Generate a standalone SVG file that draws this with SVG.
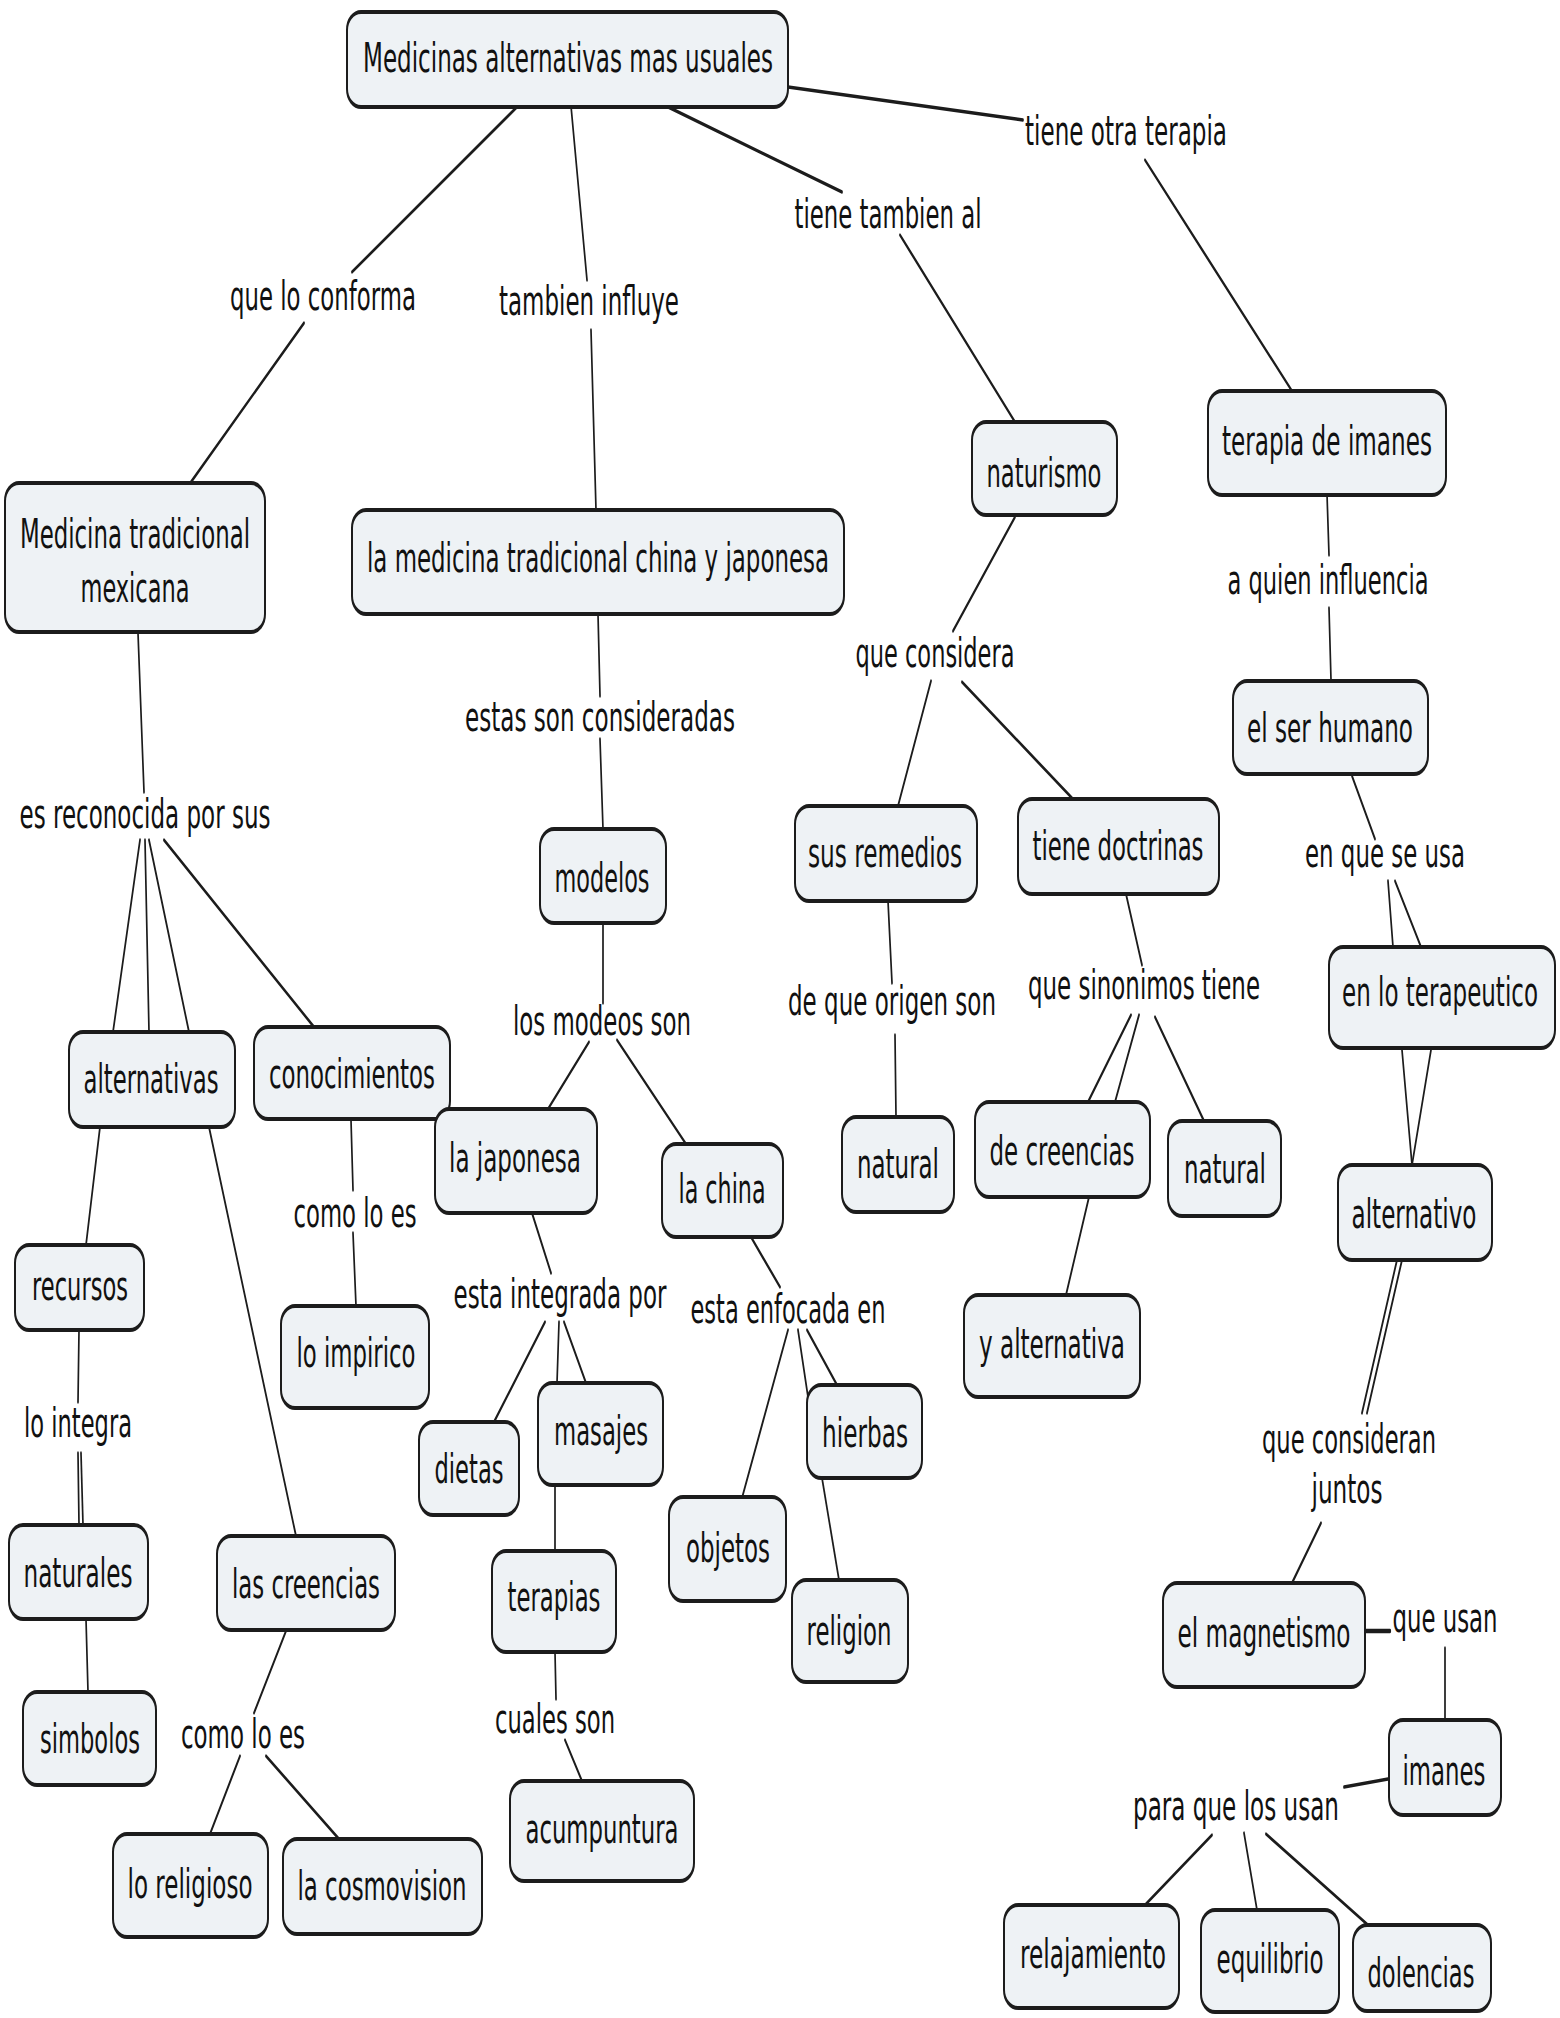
<svg xmlns="http://www.w3.org/2000/svg" width="1560" height="2018" viewBox="0 0 1560 2018">
<style>
.n{fill:#eef2f5;stroke:#1c1c1c;stroke-width:4}
.t{font-family:"DejaVu Sans",Verdana,sans-serif;font-size:40px;fill:#111;text-anchor:middle}
.c line{stroke:#1c1c1c;stroke-width:3.4;stroke-linecap:round}
</style>
<rect width="1560" height="2018" fill="#fff"/>
<g transform="scale(0.5,1)">
<g class="c" id="connectors">
<line x1="1036" y1="106" x2="704" y2="272"/><line x1="608" y1="323" x2="382" y2="482"/>
<line x1="1142" y1="106" x2="1174" y2="280"/><line x1="1182" y1="330" x2="1192" y2="510"/>
<line x1="1332" y1="106" x2="1684" y2="192"/><line x1="1800" y1="235" x2="2030" y2="422"/>
<line x1="1576" y1="87" x2="2046" y2="120"/><line x1="2290" y1="160" x2="2584" y2="391"/>
<line x1="276" y1="633" x2="288" y2="792"/>
<line x1="280" y1="840" x2="226" y2="1032"/><line x1="290" y1="840" x2="298" y2="1032"/><line x1="298" y1="840" x2="378" y2="1032"/><line x1="328" y1="840" x2="628" y2="1027"/>
<line x1="1196" y1="614" x2="1200" y2="696"/><line x1="1200" y1="739" x2="1206" y2="829"/>
<line x1="1206" y1="923" x2="1206" y2="1003"/>
<line x1="1178" y1="1042" x2="1096" y2="1109"/><line x1="1234" y1="1040" x2="1372" y2="1144"/>
<line x1="200" y1="1127" x2="172" y2="1245"/><line x1="418" y1="1127" x2="592" y2="1536"/>
<line x1="702" y1="1120" x2="706" y2="1190"/><line x1="706" y1="1233" x2="712" y2="1306"/>
<line x1="1064" y1="1213" x2="1102" y2="1273"/>
<line x1="1090" y1="1322" x2="988" y2="1422"/><line x1="1118" y1="1322" x2="1114" y2="1383"/><line x1="1128" y1="1322" x2="1172" y2="1383"/>
<line x1="1502" y1="1237" x2="1560" y2="1287"/>
<line x1="158" y1="1330" x2="156" y2="1402"/><line x1="156" y1="1453" x2="158" y2="1525"/><line x1="162" y1="1453" x2="166" y2="1525"/>
<line x1="1110" y1="1485" x2="1110" y2="1551"/>
<line x1="1576" y1="1330" x2="1484" y2="1498"/><line x1="1596" y1="1330" x2="1616" y2="1397"/><line x1="1614" y1="1330" x2="1674" y2="1385"/>
<line x1="1644" y1="1478" x2="1678" y2="1580"/>
<line x1="2030" y1="517" x2="1906" y2="631"/><line x1="1862" y1="681" x2="1796" y2="806"/><line x1="1924" y1="682" x2="2144" y2="798"/>
<line x1="2654" y1="494" x2="2658" y2="555"/><line x1="2658" y1="608" x2="2662" y2="680"/>
<line x1="2704" y1="776" x2="2750" y2="839"/><line x1="2776" y1="881" x2="2786" y2="947"/><line x1="2790" y1="881" x2="2842" y2="947"/>
<line x1="1776" y1="901" x2="1784" y2="983"/><line x1="2252" y1="894" x2="2284" y2="965"/>
<line x1="1790" y1="1035" x2="1792" y2="1117"/>
<line x1="2262" y1="1015" x2="2176" y2="1102"/><line x1="2278" y1="1015" x2="2230" y2="1102"/><line x1="2310" y1="1017" x2="2408" y2="1121"/>
<line x1="2178" y1="1197" x2="2132" y2="1295"/>
<line x1="2804" y1="1050" x2="2824" y2="1165"/><line x1="2862" y1="1050" x2="2824" y2="1165"/>
<line x1="2794" y1="1260" x2="2724" y2="1413"/><line x1="2804" y1="1260" x2="2734" y2="1413"/>
<line x1="2642" y1="1523" x2="2584" y2="1583"/>
<line x1="2732" y1="1631" x2="2780" y2="1631" style="stroke-width:4.5"/>
<line x1="2890" y1="1648" x2="2890" y2="1720"/>
<line x1="2776" y1="1779" x2="2688" y2="1787"/>
<line x1="2424" y1="1835" x2="2290" y2="1905"/><line x1="2488" y1="1833" x2="2514" y2="1910"/><line x1="2532" y1="1834" x2="2736" y2="1925"/>
<line x1="172" y1="1619" x2="176" y2="1692"/>
<line x1="572" y1="1631" x2="508" y2="1713"/><line x1="480" y1="1756" x2="420" y2="1834"/><line x1="532" y1="1756" x2="678" y2="1839"/>
<line x1="1110" y1="1652" x2="1112" y2="1699"/><line x1="1130" y1="1740" x2="1164" y2="1781"/>
</g>
<g id="labels">
<text class="t" x="646" y="310" textLength="372" lengthAdjust="spacingAndGlyphs">que lo conforma</text>
<text class="t" x="1178" y="315" textLength="360" lengthAdjust="spacingAndGlyphs">tambien influye</text>
<text class="t" x="1776" y="228" textLength="374" lengthAdjust="spacingAndGlyphs">tiene tambien al</text>
<text class="t" x="2252" y="145" textLength="404" lengthAdjust="spacingAndGlyphs">tiene otra terapia</text>
<text class="t" x="2656" y="594" textLength="402" lengthAdjust="spacingAndGlyphs">a quien influencia</text>
<text class="t" x="1870" y="667" textLength="318" lengthAdjust="spacingAndGlyphs">que considera</text>
<text class="t" x="1200" y="731" textLength="540" lengthAdjust="spacingAndGlyphs">estas son consideradas</text>
<text class="t" x="290" y="828" textLength="502" lengthAdjust="spacingAndGlyphs">es reconocida por sus</text>
<text class="t" x="2770" y="867" textLength="320" lengthAdjust="spacingAndGlyphs">en que se usa</text>
<text class="t" x="1784" y="1015" textLength="416" lengthAdjust="spacingAndGlyphs">de que origen son</text>
<text class="t" x="2288" y="999" textLength="464" lengthAdjust="spacingAndGlyphs">que sinonimos tiene</text>
<text class="t" x="1204" y="1035" textLength="356" lengthAdjust="spacingAndGlyphs">los modeos son</text>
<text class="t" x="710" y="1227" textLength="246" lengthAdjust="spacingAndGlyphs">como lo es</text>
<text class="t" x="1120" y="1308" textLength="426" lengthAdjust="spacingAndGlyphs">esta integrada por</text>
<text class="t" x="1576" y="1323" textLength="390" lengthAdjust="spacingAndGlyphs">esta enfocada en</text>
<text class="t" x="156" y="1437" textLength="216" lengthAdjust="spacingAndGlyphs">lo integra</text>
<text class="t" x="2698" y="1453" textLength="348" lengthAdjust="spacingAndGlyphs">que consideran</text>
<text class="t" x="2694" y="1503" textLength="142" lengthAdjust="spacingAndGlyphs">juntos</text>
<text class="t" x="486" y="1748" textLength="248" lengthAdjust="spacingAndGlyphs">como lo es</text>
<text class="t" x="1110" y="1733" textLength="240" lengthAdjust="spacingAndGlyphs">cuales son</text>
<text class="t" x="2890" y="1632" textLength="210" lengthAdjust="spacingAndGlyphs">que usan</text>
<text class="t" x="2472" y="1820" textLength="412" lengthAdjust="spacingAndGlyphs">para que los usan</text>
</g>
<g id="n1"><rect class="n" x="694" y="12" width="882" height="95" rx="28" ry="18"/><text class="t" x="1136" y="72" textLength="820" lengthAdjust="spacingAndGlyphs">Medicinas alternativas mas usuales</text></g>
<g id="n2"><rect class="n" x="10" y="483" width="520" height="149" rx="28" ry="18"/><text class="t" x="270" y="548" textLength="460" lengthAdjust="spacingAndGlyphs">Medicina tradicional</text><text class="t" x="270" y="602" textLength="218" lengthAdjust="spacingAndGlyphs">mexicana</text></g>
<g id="n3"><rect class="n" x="704" y="510" width="984" height="104" rx="28" ry="18"/><text class="t" x="1196" y="572" textLength="924" lengthAdjust="spacingAndGlyphs">la medicina tradicional china y japonesa</text></g>
<g id="n4"><rect class="n" x="1944" y="422" width="290" height="93" rx="28" ry="18"/><text class="t" x="2088" y="487" textLength="230" lengthAdjust="spacingAndGlyphs">naturismo</text></g>
<g id="n5"><rect class="n" x="2416" y="391" width="476" height="104" rx="28" ry="18"/><text class="t" x="2654" y="455" textLength="420" lengthAdjust="spacingAndGlyphs">terapia de imanes</text></g>
<g id="n6"><rect class="n" x="1080" y="829" width="252" height="94" rx="28" ry="18"/><text class="t" x="1204" y="892" textLength="190" lengthAdjust="spacingAndGlyphs">modelos</text></g>
<g id="n7"><rect class="n" x="1590" y="806" width="364" height="95" rx="28" ry="18"/><text class="t" x="1770" y="867" textLength="308" lengthAdjust="spacingAndGlyphs">sus remedios</text></g>
<g id="n8"><rect class="n" x="2036" y="799" width="402" height="95" rx="28" ry="18"/><text class="t" x="2236" y="860" textLength="342" lengthAdjust="spacingAndGlyphs">tiene doctrinas</text></g>
<g id="n9"><rect class="n" x="2466" y="681" width="390" height="93" rx="28" ry="18"/><text class="t" x="2660" y="742" textLength="332" lengthAdjust="spacingAndGlyphs">el ser humano</text></g>
<g id="n10"><rect class="n" x="2658" y="947" width="452" height="101" rx="28" ry="18"/><text class="t" x="2880" y="1006" textLength="392" lengthAdjust="spacingAndGlyphs">en lo terapeutico</text></g>
<g id="n11"><rect class="n" x="138" y="1032" width="332" height="95" rx="28" ry="18"/><text class="t" x="302" y="1093" textLength="270" lengthAdjust="spacingAndGlyphs">alternativas</text></g>
<g id="n12"><rect class="n" x="508" y="1027" width="392" height="92" rx="28" ry="18"/><text class="t" x="704" y="1088" textLength="332" lengthAdjust="spacingAndGlyphs">conocimientos</text></g>
<g id="n13"><rect class="n" x="870" y="1109" width="324" height="104" rx="28" ry="18"/><text class="t" x="1030" y="1172" textLength="264" lengthAdjust="spacingAndGlyphs">la japonesa</text></g>
<g id="n14"><rect class="n" x="1324" y="1144" width="242" height="93" rx="28" ry="18"/><text class="t" x="1444" y="1203" textLength="174" lengthAdjust="spacingAndGlyphs">la china</text></g>
<g id="n15"><rect class="n" x="30" y="1245" width="258" height="85" rx="28" ry="18"/><text class="t" x="160" y="1300" textLength="192" lengthAdjust="spacingAndGlyphs">recursos</text></g>
<g id="n16"><rect class="n" x="562" y="1306" width="296" height="102" rx="28" ry="18"/><text class="t" x="712" y="1367" textLength="238" lengthAdjust="spacingAndGlyphs">lo impirico</text></g>
<g id="n17"><rect class="n" x="838" y="1422" width="200" height="93" rx="28" ry="18"/><text class="t" x="938" y="1483" textLength="138" lengthAdjust="spacingAndGlyphs">dietas</text></g>
<g id="n18"><rect class="n" x="1076" y="1383" width="250" height="102" rx="28" ry="18"/><text class="t" x="1202" y="1445" textLength="188" lengthAdjust="spacingAndGlyphs">masajes</text></g>
<g id="n19"><rect class="n" x="1684" y="1117" width="224" height="95" rx="28" ry="18"/><text class="t" x="1796" y="1178" textLength="164" lengthAdjust="spacingAndGlyphs">natural</text></g>
<g id="n20"><rect class="n" x="1950" y="1102" width="350" height="95" rx="28" ry="18"/><text class="t" x="2124" y="1165" textLength="290" lengthAdjust="spacingAndGlyphs">de creencias</text></g>
<g id="n21"><rect class="n" x="2336" y="1121" width="226" height="95" rx="28" ry="18"/><text class="t" x="2450" y="1183" textLength="164" lengthAdjust="spacingAndGlyphs">natural</text></g>
<g id="n22"><rect class="n" x="2676" y="1165" width="308" height="95" rx="28" ry="18"/><text class="t" x="2828" y="1228" textLength="250" lengthAdjust="spacingAndGlyphs">alternativo</text></g>
<g id="n23"><rect class="n" x="1928" y="1295" width="352" height="102" rx="28" ry="18"/><text class="t" x="2104" y="1358" textLength="292" lengthAdjust="spacingAndGlyphs">y alternativa</text></g>
<g id="n24"><rect class="n" x="1614" y="1385" width="230" height="93" rx="28" ry="18"/><text class="t" x="1730" y="1447" textLength="172" lengthAdjust="spacingAndGlyphs">hierbas</text></g>
<g id="n25"><rect class="n" x="18" y="1525" width="278" height="94" rx="28" ry="18"/><text class="t" x="156" y="1587" textLength="218" lengthAdjust="spacingAndGlyphs">naturales</text></g>
<g id="n26"><rect class="n" x="434" y="1536" width="356" height="94" rx="28" ry="18"/><text class="t" x="612" y="1598" textLength="296" lengthAdjust="spacingAndGlyphs">las creencias</text></g>
<g id="n27"><rect class="n" x="984" y="1551" width="248" height="101" rx="28" ry="18"/><text class="t" x="1108" y="1611" textLength="186" lengthAdjust="spacingAndGlyphs">terapias</text></g>
<g id="n28"><rect class="n" x="1338" y="1497" width="234" height="104" rx="28" ry="18"/><text class="t" x="1456" y="1562" textLength="168" lengthAdjust="spacingAndGlyphs">objetos</text></g>
<g id="n29"><rect class="n" x="1584" y="1580" width="232" height="102" rx="28" ry="18"/><text class="t" x="1698" y="1645" textLength="170" lengthAdjust="spacingAndGlyphs">religion</text></g>
<g id="n30"><rect class="n" x="46" y="1692" width="266" height="93" rx="28" ry="18"/><text class="t" x="180" y="1753" textLength="200" lengthAdjust="spacingAndGlyphs">simbolos</text></g>
<g id="n31"><rect class="n" x="1020" y="1781" width="368" height="100" rx="28" ry="18"/><text class="t" x="1204" y="1843" textLength="306" lengthAdjust="spacingAndGlyphs">acumpuntura</text></g>
<g id="n32"><rect class="n" x="226" y="1834" width="310" height="103" rx="28" ry="18"/><text class="t" x="380" y="1898" textLength="250" lengthAdjust="spacingAndGlyphs">lo religioso</text></g>
<g id="n33"><rect class="n" x="566" y="1839" width="398" height="95" rx="28" ry="18"/><text class="t" x="764" y="1900" textLength="338" lengthAdjust="spacingAndGlyphs">la cosmovision</text></g>
<g id="n34"><rect class="n" x="2326" y="1583" width="404" height="104" rx="28" ry="18"/><text class="t" x="2528" y="1647" textLength="346" lengthAdjust="spacingAndGlyphs">el magnetismo</text></g>
<g id="n35"><rect class="n" x="2778" y="1720" width="224" height="95" rx="28" ry="18"/><text class="t" x="2888" y="1785" textLength="166" lengthAdjust="spacingAndGlyphs">imanes</text></g>
<g id="n36"><rect class="n" x="2008" y="1905" width="350" height="103" rx="28" ry="18"/><text class="t" x="2186" y="1968" textLength="292" lengthAdjust="spacingAndGlyphs">relajamiento</text></g>
<g id="n37"><rect class="n" x="2402" y="1910" width="276" height="102" rx="28" ry="18"/><text class="t" x="2540" y="1973" textLength="214" lengthAdjust="spacingAndGlyphs">equilibrio</text></g>
<g id="n38"><rect class="n" x="2706" y="1925" width="276" height="86" rx="28" ry="18"/><text class="t" x="2842" y="1987" textLength="214" lengthAdjust="spacingAndGlyphs">dolencias</text></g>
</g>
</svg>
